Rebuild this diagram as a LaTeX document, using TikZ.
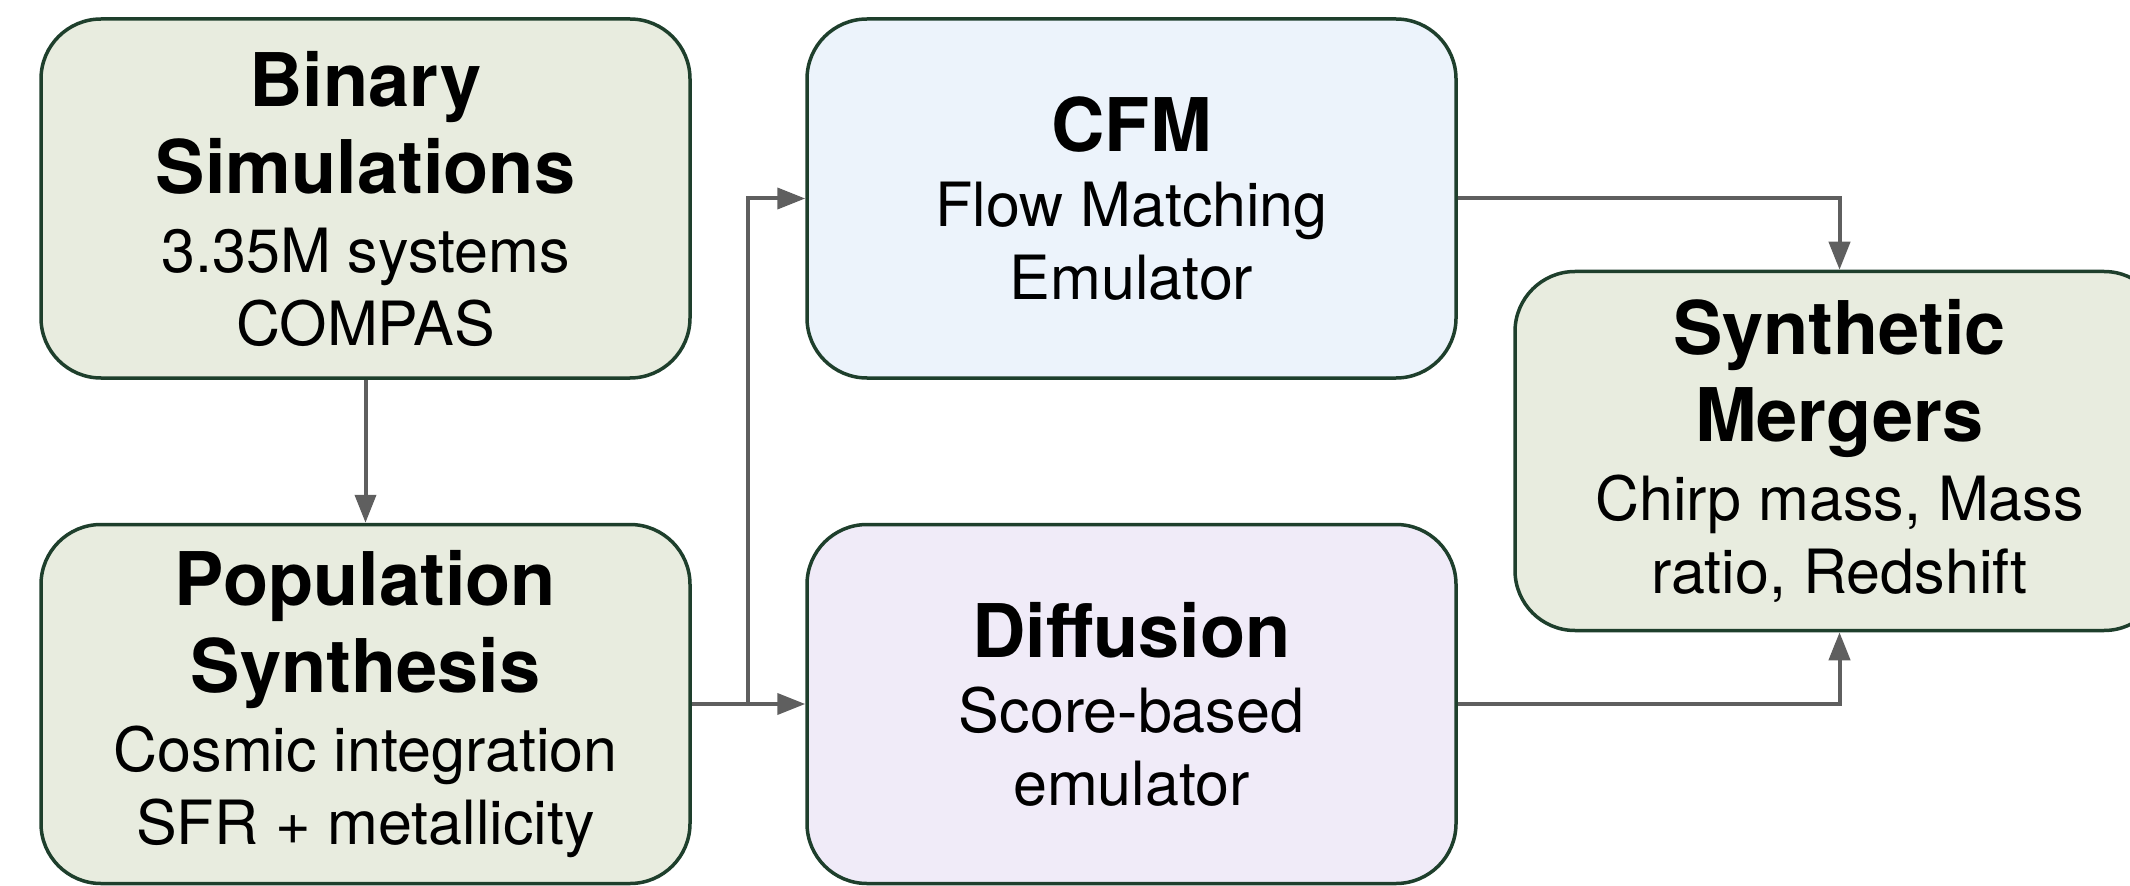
\documentclass[tikz,border=0pt]{standalone}
\usepackage{fontspec}
\setmainfont{TeX Gyre Heros}
\usetikzlibrary{arrows.meta,positioning}
\definecolor{simfill}{HTML}{E8ECDF}
\definecolor{cfmfill}{HTML}{ECF3FB}
\definecolor{diffill}{HTML}{F0EBF8}
\definecolor{boxline}{HTML}{1E3F2C}
\definecolor{flow}{HTML}{5F5F5F}
\newcommand{\ttl}[1]{{\fontsize{37}{42}\selectfont\bfseries #1}}

\begin{document}
\begin{tikzpicture}[x=0.5pt,y=0.5pt,
  box/.style={draw=boxline,line width=1.75pt,rounded corners=30pt,
    minimum width=324.5pt,minimum height=179.5pt,inner sep=0pt,
    align=center,font=\fontsize{30.5}{36.5}\selectfont},
  flowarrow/.style={draw=flow,line width=2pt,-{Triangle[length=14pt,width=10.5pt]}}]
  \useasboundingbox (0,0) rectangle (2130,885);

  % Boxes
  \node[box,fill=simfill] (bin) at (365.5,686.5)
    {\ttl{Binary}\\[7pt]\ttl{Simulations}\\[3pt]3.35M systems\\COMPAS};
  \node[box,fill=simfill] (pop) at (365.5,181)
    {\ttl{Population}\\[7pt]\ttl{Synthesis}\\[3pt]Cosmic integration\\SFR + metallicity};
  \node[box,fill=cfmfill] (cfm) at (1131.5,686.5)
    {\ttl{CFM}\\[1pt]Flow Matching\\Emulator};
  \node[box,fill=diffill] (dif) at (1131.5,181)
    {\ttl{Diffusion}\\[1pt]Score-based\\emulator};
  \node[box,fill=simfill] (syn) at (1839.5,434)
    {\ttl{Synthetic}\\[7pt]\ttl{Mergers}\\[3pt]Chirp mass, Mass\\ratio, Redshift};

  % Connectors
  \coordinate (split) at (748,181);
  \draw[flowarrow] (bin) -- (pop);
  \draw[flowarrow] (pop) -- (dif);
  \draw[flowarrow] (split) |- (cfm);
  \draw[flowarrow] (cfm) -| (syn);
  \draw[flowarrow] (dif) -| (syn);
\end{tikzpicture}
\end{document}
